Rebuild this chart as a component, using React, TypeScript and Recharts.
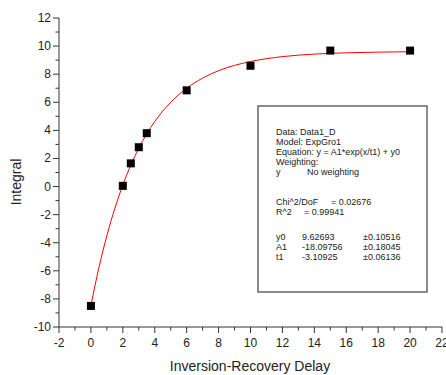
import React from 'react';
import {
    ComposedChart,
    Customized,
    Line,
    Scatter,
    XAxis,
    YAxis
} from 'recharts';

const FONT = '"Liberation Sans", Arial, sans-serif';

// measured points (delay, integral)
const delays = [0, 2, 2.5, 3, 3.5, 6, 10, 15, 20];
const integrals = [-8.5, 0.05, 1.65, 2.8, 3.8, 6.85, 8.6, 9.68, 9.68];

// fitted ExpGro1 curve
const curveX = [0, 0.5, 1, 1.5, 2, 2.5, 3, 3.5, 4, 5, 6, 7, 8, 10, 12, 14, 16, 18, 20];
const curveY = [-8.47, -5.78, -3.49, -1.55, 0.11, 1.53, 2.73, 3.76, 4.63, 6.0, 7.0, 7.72, 8.25, 8.9, 9.25, 9.43, 9.52, 9.57, 9.6];

const xTicks = [-2, -1, 0, 1, 2, 3, 4, 5, 6, 7, 8, 9, 10, 11, 12, 13, 14, 15, 16, 17, 18, 19, 20, 21, 22];
const yTicks = [-10, -9, -8, -7, -6, -5, -4, -3, -2, -1, 0, 1, 2, 3, 4, 5, 6, 7, 8, 9, 10, 11, 12];

const statsLines = [
    'Data: Data1_D',
    'Model: ExpGro1',
    'Equation: y = A1*exp(x/t1) + y0',
    'Weighting:'
];
const paramNames = ['y0', 'A1', 't1'];
const paramValues = ['9.62693', '-18.09756', '-3.10925'];
const paramErrors = ['\u00b10.10516', '\u00b10.18045', '\u00b10.06136'];

const points = delays.map((x, i) => ({ x, y: integrals[i] }));
const curve = curveX.map((x, i) => ({ x, y: curveY[i] }));

const AXIS_COLOR = '#333';

const XTick = (props: any) => {
    const { x, y, payload } = props;
    const major = payload.value % 2 === 0;
    return (
        <g>
            <line x1={x} y1={y} x2={x} y2={y + (major ? 6 : 3.5)} stroke={AXIS_COLOR} strokeWidth={1} />
            {major && (
                <text x={x} y={y + 20} textAnchor="middle" fontSize={12} fill="#222" fontFamily={FONT}>
                    {payload.value}
                </text>
            )}
        </g>
    );
};

const YTick = (props: any) => {
    const { x, y, payload } = props;
    const major = payload.value % 2 === 0;
    return (
        <g>
            <line x1={x - (major ? 6 : 3.5)} y1={y} x2={x} y2={y} stroke={AXIS_COLOR} strokeWidth={1} />
            {major && (
                <text x={x - 8} y={y + 4} textAnchor="end" fontSize={12} fill="#222" fontFamily={FONT}>
                    {payload.value}
                </text>
            )}
        </g>
    );
};

const SquareMarker = (props: any) => {
    const { cx, cy } = props;
    return <rect x={cx - 4} y={cy - 4} width={8} height={8} fill="#000" />;
};

const StatsBox = () => {
    const left = 276;
    const lh = 10;
    return (
        <g fontFamily={FONT} fontSize={9} fill="#222">
            <rect x={258} y={106} width={169} height={186} fill="#fff" stroke="#666" strokeWidth={1.5} />
            {statsLines.map((s, i) => (
                <text key={s} x={left} y={135 + i * lh}>{s}</text>
            ))}
            <text x={left} y={175}>y</text>
            <text x={307} y={175}>No weighting</text>
            <text x={left} y={204.5}>Chi^2/DoF</text>
            <text x={331} y={204.5}>= 0.02676</text>
            <text x={left} y={215}>R^2</text>
            <text x={304} y={215}>=  0.99941</text>
            {paramNames.map((n, i) => (
                <g key={n}>
                    <text x={left} y={240 + i * lh}>{n}</text>
                    <text x={302} y={240 + i * lh}>{paramValues[i]}</text>
                    <text x={363} y={240 + i * lh}>{paramErrors[i]}</text>
                </g>
            ))}
        </g>
    );
};

const AxisTitles = () => (
    <g fontFamily={FONT} fontSize={14} fill="#222">
        <text x={250} y={371} textAnchor="middle">Inversion-Recovery Delay</text>
        <text x={21} y={182} textAnchor="middle" transform="rotate(-90 21 182)">Integral</text>
    </g>
);

export default function App() {
    return (
        <div style={{ position: 'absolute', left: 0, top: 0, background: '#fff' }}>
            <ComposedChart width={446} height={375} margin={{ top: 18, right: 4, left: 0, bottom: 0 }}>
                <XAxis
                    type="number"
                    dataKey="x"
                    domain={[-2, 22]}
                    ticks={xTicks}
                    interval={0}
                    tickSize={0}
                    tickMargin={0}
                    tickLine={false}
                    tick={<XTick />}
                    height={48}
                    stroke={AXIS_COLOR}
                    allowDataOverflow
                />
                <YAxis
                    type="number"
                    dataKey="y"
                    domain={[-10, 12]}
                    ticks={yTicks}
                    interval={0}
                    tickSize={0}
                    tickMargin={0}
                    tickLine={false}
                    tick={<YTick />}
                    width={59}
                    stroke={AXIS_COLOR}
                    allowDataOverflow
                />
                <Line
                    data={curve}
                    dataKey="y"
                    type="monotone"
                    stroke="#ff0000"
                    strokeWidth={1}
                    dot={false}
                    activeDot={false}
                    isAnimationActive={false}
                />
                <Scatter
                    data={points}
                    dataKey="y"
                    shape={<SquareMarker />}
                    isAnimationActive={false}
                />
                <Customized component={<StatsBox />} />
                <Customized component={<AxisTitles />} />
            </ComposedChart>
        </div>
    );
}
